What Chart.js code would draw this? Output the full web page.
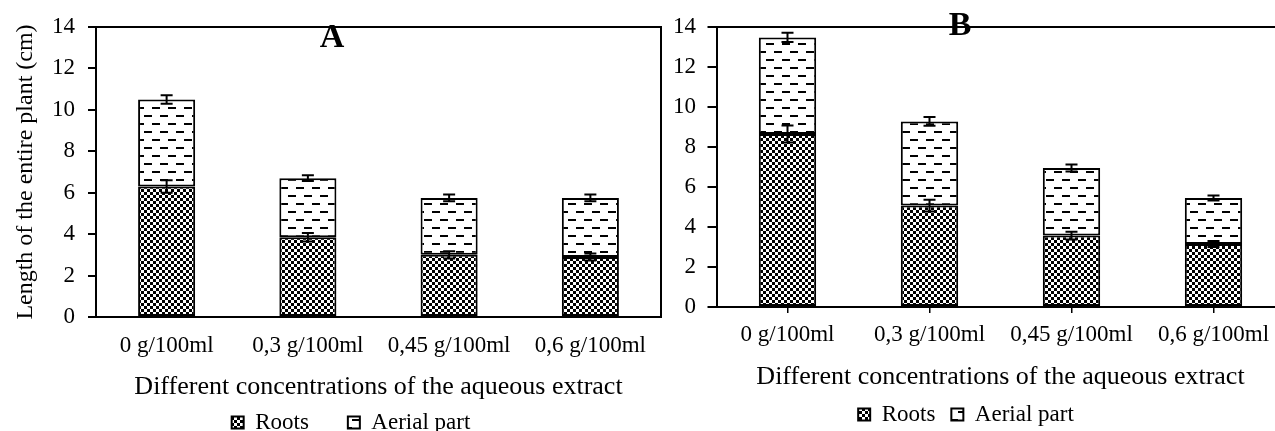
<!DOCTYPE html>
<html>
<head>
<meta charset="utf-8">
<script src="https://cdn.jsdelivr.net/npm/chart.js@4.4.0/dist/chart.umd.min.js"></script>
<style>
  html, body { margin: 0; padding: 0; background: #fff; overflow: hidden; width: 1275px; height: 431px; }
  #chartA { position: absolute; left: 0; top: 0; }
  #chartB { position: absolute; left: 646px; top: 0; }
</style>
</head>
<body>
<canvas id="chartA" width="702" height="444"></canvas>
<canvas id="chartB" width="640" height="436"></canvas>
<script>
const categories = ['0 g/100ml', '0,3 g/100ml', '0,45 g/100ml', '0,6 g/100ml'];
const seriesNames = ['Roots', 'Aerial part'];
const yTicks = [0, 2, 4, 6, 8, 10, 12, 14];
const xTitle = 'Different concentrations of the aqueous extract';
const yTitle = 'Length of the entire plant (cm)';

// panel A
const rootsA = [6.3, 3.85, 3.0, 2.9];
const aerialA = [4.2, 2.85, 2.75, 2.85];
const rootsErrA = [0.3, 0.2, 0.17, 0.17];
const totalErrA = [0.2, 0.14, 0.16, 0.16];

// panel B
const rootsB = [8.65, 5.07, 3.57, 3.15];
const aerialB = [4.83, 4.21, 3.38, 2.3];
const rootsErrB = [0.42, 0.29, 0.19, 0.15];
const totalErrB = [0.23, 0.22, 0.17, 0.12];

Chart.defaults.font.family = "'Liberation Serif', 'Times New Roman', serif";
Chart.defaults.color = '#000';

// fill patterns
function checkerPattern() {
  const c = document.createElement('canvas');
  c.width = 6; c.height = 6;
  const g = c.getContext('2d');
  g.fillStyle = '#fff';
  g.fillRect(0, 0, 6, 6);
  g.fillStyle = '#000';
  g.fillRect(0, 0, 3, 3);
  g.fillRect(3, 3, 3, 3);
  return g.createPattern(c, 'repeat');
}
function dashPattern() {
  const c = document.createElement('canvas');
  c.width = 16; c.height = 16;
  const g = c.getContext('2d');
  g.fillStyle = '#fff';
  g.fillRect(0, 0, 16, 16);
  g.fillStyle = '#000';
  g.fillRect(0, 3, 8, 2);
  g.fillRect(8, 11, 8, 2);
  return g.createPattern(c, 'repeat');
}

// error bars at the top of each stacked segment
const errorBars = {
  id: 'errorBars',
  afterDatasetsDraw(chart) {
    const ctx = chart.ctx;
    const y = chart.scales.y;
    ctx.save();
    ctx.strokeStyle = '#000';
    ctx.lineWidth = 2;
    chart.data.datasets.forEach((ds, i) => {
      const meta = chart.getDatasetMeta(i);
      meta.data.forEach((bar, j) => {
        let top = 0;
        for (let k = 0; k <= i; k++) top += chart.data.datasets[k].data[j];
        const e = ds.errors[j];
        const y1 = y.getPixelForValue(top + e);
        const y2 = y.getPixelForValue(top - e);
        ctx.beginPath();
        ctx.moveTo(bar.x, y1); ctx.lineTo(bar.x, y2);
        ctx.moveTo(bar.x - 6, y1); ctx.lineTo(bar.x + 6, y1);
        ctx.moveTo(bar.x - 6, y2); ctx.lineTo(bar.x + 6, y2);
        ctx.stroke();
      });
    });
    ctx.restore();
  }
};

// big panel letter (A / B)
const panelLabel = {
  id: 'panelLabel',
  afterDraw(chart, args, opts) {
    const ctx = chart.ctx;
    ctx.save();
    ctx.font = "bold 34px 'Liberation Serif', serif";
    ctx.fillStyle = '#000';
    ctx.textAlign = 'center';
    ctx.textBaseline = 'alphabetic';
    ctx.fillText(opts.text, opts.x, opts.y);
    ctx.restore();
  }
};

function makeChart(id, roots, aerial, rootsErr, totalErr, s) {
  const ctx = document.getElementById(id).getContext('2d');
  return new Chart(ctx, {
    type: 'bar',
    data: {
      labels: categories,
      datasets: [{
        label: seriesNames[0],
        data: roots,
        errors: rootsErr,
        backgroundColor: checkerPattern(),
        borderColor: '#000',
        borderWidth: 2,
        borderSkipped: false,
        categoryPercentage: 1,
        barPercentage: 0.404
      }, {
        label: seriesNames[1],
        data: aerial,
        errors: totalErr,
        backgroundColor: dashPattern(),
        borderColor: '#000',
        borderWidth: 2,
        borderSkipped: false,
        categoryPercentage: 1,
        barPercentage: 0.404
      }]
    },
    options: {
      responsive: false,
      animation: false,
      events: [],
      layout: { padding: 0 },
      scales: {
        x: {
          stacked: true,
          grid: s.xGrid,
          border: { color: '#000', width: 2 },
          ticks: { font: { size: 23 }, padding: s.xTickPad, maxRotation: 0, autoSkip: false },
          title: { display: true, text: xTitle, font: { size: 26 }, padding: { top: 0, bottom: s.xTitlePad } },
          afterFit: a => { a.height = s.xHeight; }
        },
        x2: {
          type: 'category',
          position: 'top',
          grid: { display: false },
          ticks: { display: false },
          border: { color: '#000', width: 2 },
          afterFit: a => { a.height = 27; }
        },
        y: {
          stacked: true,
          min: yTicks[0],
          max: yTicks[yTicks.length - 1],
          ticks: { stepSize: yTicks[1] - yTicks[0], font: { size: 23 }, padding: s.yTickPad },
          grid: { display: true, drawOnChartArea: false, drawTicks: true, tickLength: s.yTickLen, color: '#000', lineWidth: 2 },
          border: { color: '#000', width: 2 },
          title: { display: s.showYTitle, text: yTitle, font: { size: 24 }, padding: { top: 11, bottom: 0 } },
          afterFit: a => { a.width = s.yWidth; }
        },
        y1: {
          type: 'linear',
          position: 'right',
          grid: { display: false },
          ticks: { display: false },
          border: { color: '#000', width: 2 },
          afterFit: a => { a.width = s.rightWidth; }
        }
      },
      plugins: {
        tooltip: { enabled: false },
        legend: {
          position: 'bottom',
          labels: { font: { size: 23 }, color: '#000', boxWidth: 12, boxHeight: 12, padding: s.legendPad }
        },
        panelLabel: s.panel
      }
    },
    plugins: [errorBars, panelLabel]
  });
}

makeChart('chartA', rootsA, aerialA, rootsErrA, totalErrA, {
  xGrid: { display: false, drawTicks: false },
  xTickPad: 15,
  xTitlePad: -30.6,
  xHeight: 55,
  yTickPad: 13,
  yTickLen: 8,
  yWidth: 96,
  rightWidth: 41,
  showYTitle: true,
  legendPad: 39,
  panel: { text: 'A', x: 332, y: 47 }
});

makeChart('chartB', rootsB, aerialB, rootsErrB, totalErrB, {
  xGrid: { display: true, drawOnChartArea: false, offset: false, drawTicks: true, tickLength: 6, color: '#000', lineWidth: 1.5 },
  xTickPad: 8,
  xTitlePad: -5.6,
  xHeight: 80,
  yTickPad: 11.5,
  yTickLen: 9,
  yWidth: 70.5,
  rightWidth: 1.5,
  showYTitle: false,
  legendPad: 16,
  panel: { text: 'B', x: 314, y: 35 }
});
</script>
</body>
</html>
